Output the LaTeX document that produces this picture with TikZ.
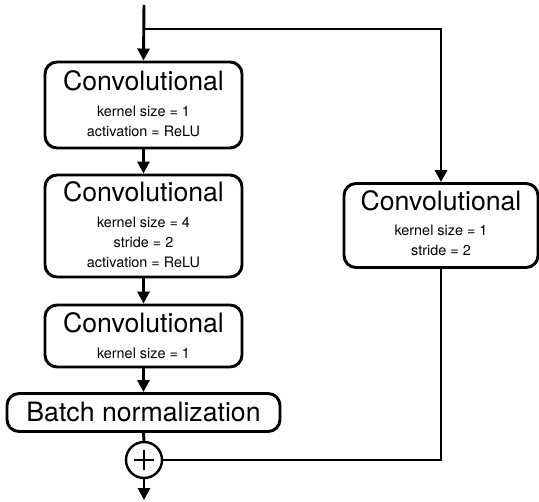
\documentclass[tikz,border=0pt]{standalone}
\usepackage{fontspec}
\setmainfont{TeX Gyre Heros}
\usetikzlibrary{arrows.meta}
\begin{document}
\begin{tikzpicture}[x=0.75pt,y=-0.75pt,
  box/.style={draw,line width=2.2pt,rounded corners=9pt,inner sep=0pt},
  ttl/.style={font=\fontsize{20}{24}\selectfont,inner sep=0pt},
  sub/.style={font=\fontsize{10.8}{15}\selectfont,align=center,inner sep=0pt},
  conn/.style={line width=2.2pt},
  arr/.style={conn,-{Triangle[length=9pt,width=9pt]}}]
\useasboundingbox (0,0) rectangle (539,502);
% boxes
\node[box,minimum width=147.75pt,minimum height=64.5pt] (b1) at (143.5,105) {};
\node[box,minimum width=147.75pt,minimum height=76.5pt] (b2) at (143.5,226) {};
\node[box,minimum width=147.75pt,minimum height=46.5pt] (b3) at (143.5,336) {};
\node[box,minimum width=204.75pt,minimum height=28.5pt] (bn) at (143.5,412.5) {};
\node[box,minimum width=145.5pt,minimum height=63pt] (rb) at (441,225.5) {};
\node[draw,circle,line width=1.8pt,minimum size=27pt,inner sep=0pt] (plus) at (144,460) {};
% texts
\node[ttl] (t1) at (143.5,81) {Convolutional};
\node[sub] (s1) at (143.5,121) {kernel size = 1\\activation = ReLU};
\node[ttl] (t2) at (143.5,192) {Convolutional};
\node[sub] (s2) at (143.5,242) {kernel size = 4\\stride = 2\\activation = ReLU};
\node[ttl] (t3) at (143.5,323) {Convolutional};
\node[sub] (s3) at (143.5,353) {kernel size = 1};
\node[ttl] (tbn) at (143.5,412) {Batch normalization};
\node[ttl] (tr) at (441,201) {Convolutional};
\node[sub] (sr) at (441,240) {kernel size = 1\\stride = 2};
% plus sign
\draw[line width=1.8pt] ([xshift=-7.5pt]plus.center) -- ([xshift=7.5pt]plus.center)
  ([yshift=-7.5pt]plus.center) -- ([yshift=7.5pt]plus.center);
% connectors
\coordinate (in) at (144,5);
\coordinate (split) at (144,29);
\coordinate (out) at (144,500);
\draw[arr] (in) -- (b1.north);
\draw[arr] (split) -| (rb.north);
\draw[arr] (b1.south) -- (b2.north);
\draw[arr] (b2.south) -- (b3.north);
\draw[arr] (b3.south) -- (bn.north);
\draw[conn] (bn.south) -- (plus.north);
\draw[conn] (rb.south) |- (plus.east);
\draw[arr] (plus.south) -- (out);
\end{tikzpicture}
\end{document}
